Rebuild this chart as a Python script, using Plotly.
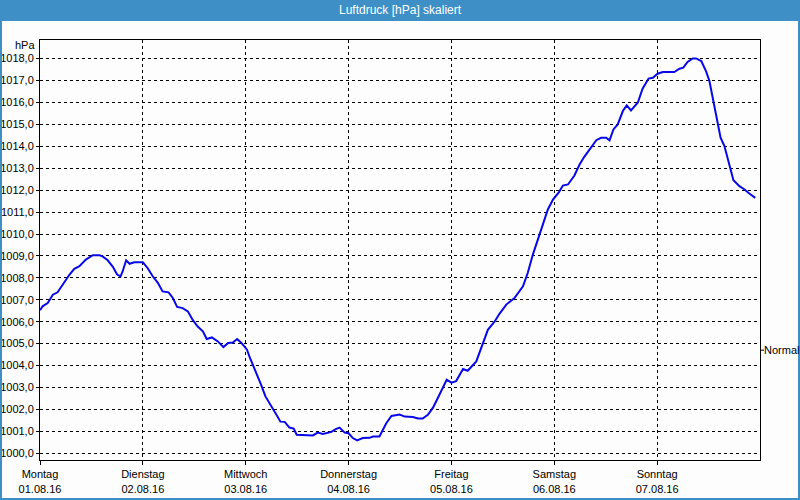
import pandas as pd
import plotly.graph_objects as go

# Stunden seit Mo 01.08.16 00:00 und Luftdruck in hPa
hours = [0.0, 0.6, 1.8, 2.3, 3.0, 4.1, 5.3, 6.9, 8.0, 9.2, 10.7, 12.3, 13.9, 14.6,
         15.8, 17.0, 18.0, 18.8, 19.3, 20.1, 20.9, 22.0, 24.0, 25.1, 26.3, 27.5,
         28.6, 30.0, 31.0, 32.0, 33.3, 34.5, 35.6, 36.8, 38.0, 38.9, 40.1, 41.5,
         42.8, 43.9, 45.0, 46.0, 47.0, 48.3, 48.9, 50.5, 51.6, 52.6, 54.0, 55.1,
         56.1, 57.1, 58.2, 59.2, 59.9, 63.7, 64.8, 66.0, 68.0, 69.0, 69.9, 71.1,
         72.0, 73.0, 74.0, 75.3, 76.9, 77.7, 79.2, 80.8, 82.0, 83.9, 85.1, 87.0,
         88.2, 89.3, 90.5, 91.7, 92.8, 94.0, 94.9, 96.0, 97.1, 98.7, 99.8, 101.8,
         103.0, 104.5, 106.1, 107.2, 108.8, 110.7, 112.7, 113.8, 115.0, 116.2,
         117.3, 118.5, 119.7, 121.1, 122.0, 123.2, 124.7, 125.9, 127.0, 128.6,
         129.8, 130.9, 132.1, 132.9, 133.8, 134.8, 136.0, 136.9, 137.9, 139.5,
         140.6, 142.0, 143.0, 144.1, 145.3, 148.0, 149.2, 150.1, 151.1, 152.3,
         153.1, 154.3, 155.4, 156.2, 157.0, 157.8, 158.8, 159.7, 160.9, 161.8,
         163.2, 164.4, 165.5, 166.9]
pressure = [1006.52, 1006.70, 1006.85, 1007.00, 1007.23, 1007.34, 1007.69, 1008.15,
            1008.41, 1008.53, 1008.83, 1009.03, 1009.03, 1008.98, 1008.80, 1008.50,
            1008.15, 1008.07, 1008.30, 1008.80, 1008.64, 1008.71, 1008.71, 1008.45,
            1008.07, 1007.77, 1007.38, 1007.34, 1007.08, 1006.67, 1006.62, 1006.47,
            1006.09, 1005.78, 1005.56, 1005.21, 1005.28, 1005.10, 1004.84, 1005.03,
            1005.05, 1005.21, 1005.03, 1004.72, 1004.39, 1003.66, 1003.12, 1002.59,
            1002.10, 1001.78, 1001.44, 1001.43, 1001.17, 1001.12, 1000.84, 1000.81,
            1000.94, 1000.88, 1000.97, 1001.10, 1001.17, 1000.94, 1000.91, 1000.69,
            1000.58, 1000.69, 1000.70, 1000.76, 1000.76, 1001.37, 1001.70, 1001.76,
            1001.67, 1001.65, 1001.58, 1001.58, 1001.75, 1002.08, 1002.51, 1002.97,
            1003.35, 1003.22, 1003.29, 1003.84, 1003.76, 1004.19, 1004.87, 1005.63,
            1006.01, 1006.36, 1006.78, 1007.08, 1007.61, 1008.22, 1009.06, 1009.75,
            1010.35, 1011.12, 1011.57, 1011.91, 1012.21, 1012.26, 1012.67, 1013.17,
            1013.52, 1013.93, 1014.28, 1014.39, 1014.39, 1014.27, 1014.77, 1015.00,
            1015.61, 1015.87, 1015.64, 1016.00, 1016.63, 1017.09, 1017.13, 1017.31,
            1017.39, 1017.39, 1017.54, 1017.59, 1017.85, 1018.01, 1018.01, 1017.89,
            1017.43, 1016.98, 1016.14, 1015.38, 1014.39, 1014.01, 1013.17, 1012.45,
            1012.18, 1012.03, 1011.85, 1011.65]

days = ["2016-08-01", "2016-08-02", "2016-08-03", "2016-08-04",
        "2016-08-05", "2016-08-06", "2016-08-07"]
day_names = ["Montag", "Dienstag", "Mittwoch", "Donnerstag", "Freitag", "Samstag", "Sonntag"]
day_labels = ["01.08.16", "02.08.16", "03.08.16", "04.08.16", "05.08.16", "06.08.16", "07.08.16"]
y_ticks = list(range(1000, 1019))
normal = 1004.7

start = pd.Timestamp("2016-08-01")
times = start + pd.to_timedelta(hours, unit="h")

W, H = 800, 500
L, R, T, B = 40, 40, 40, 40
pw, ph = W - L - R, H - T - B

fig = go.Figure()
fig.add_trace(go.Scatter(x=times, y=pressure, mode="lines",
                         line=dict(color="#0808e8", width=2), hoverinfo="x+y"))

font = dict(family="Liberation Sans", size=11, color="black")

fig.update_xaxes(range=[start, start + pd.Timedelta(days=7)],
                 tickvals=days,
                 ticktext=[f"{n}<br>{d}" for n, d in zip(day_names, day_labels)],
                 showgrid=True, gridcolor="black", griddash="3px,3px", gridwidth=1,
                 showline=True, linecolor="black", linewidth=1, mirror=True,
                 ticks="outside", ticklen=4, tickcolor="black",
                 tickfont=font, zeroline=False, automargin=False)
fig.update_yaxes(range=[999.69, 1018.85], tickvals=y_ticks,
                 ticktext=[f"{v},0" for v in y_ticks],
                 showgrid=True, gridcolor="black", griddash="3px,3px", gridwidth=1,
                 showline=True, linecolor="black", linewidth=1, mirror=True,
                 ticks="outside", ticklen=3, tickcolor="black",
                 tickfont=font, zeroline=False, automargin=False)

shapes = [
    # Titelleiste
    dict(type="rect", xref="paper", yref="paper", layer="below",
         x0=-L / pw, x1=1 + R / pw, y0=1 + (T - 20) / ph, y1=1 + T / ph,
         fillcolor="#3d8fc6", line=dict(width=0)),
    # Fensterrahmen
    dict(type="rect", xref="paper", yref="paper",
         x0=-(L - 1) / pw, x1=1 + (R - 1) / pw, y0=-(B - 1) / ph, y1=1 + (T - 20) / ph,
         line=dict(color="#3d8fc6", width=2), fillcolor="rgba(0,0,0,0)"),
    # Normal-Markierung
    dict(type="line", xref="paper", yref="y", x0=1, x1=1 + 4 / pw, y0=normal, y1=normal,
         line=dict(color="black", width=1)),
]

annotations = [
    dict(text="Luftdruck [hPa] skaliert", xref="paper", yref="paper",
         x=0.5, y=1 + (T - 10) / ph, showarrow=False, yanchor="middle",
         font=dict(family="Liberation Sans", size=12, color="white")),
    dict(text="hPa", xref="paper", yref="paper", x=-3 / pw, y=1 - 5 / ph,
         xanchor="right", yanchor="middle", showarrow=False, font=font),
    dict(text="Normal", xref="paper", yref="y", x=1 + 2 / pw, y=normal,
         xanchor="left", yanchor="middle", showarrow=False, font=font),
]

fig.update_layout(width=W, height=H, margin=dict(l=L, r=R, t=T, b=B),
                  paper_bgcolor="#fcfdfc", plot_bgcolor="#fcfdfc",
                  showlegend=False, shapes=shapes, annotations=annotations)

fig.write_html("out.html", config={"displayModeBar": False},
               post_script="document.body.style.margin='0';document.body.style.overflow='hidden';")
